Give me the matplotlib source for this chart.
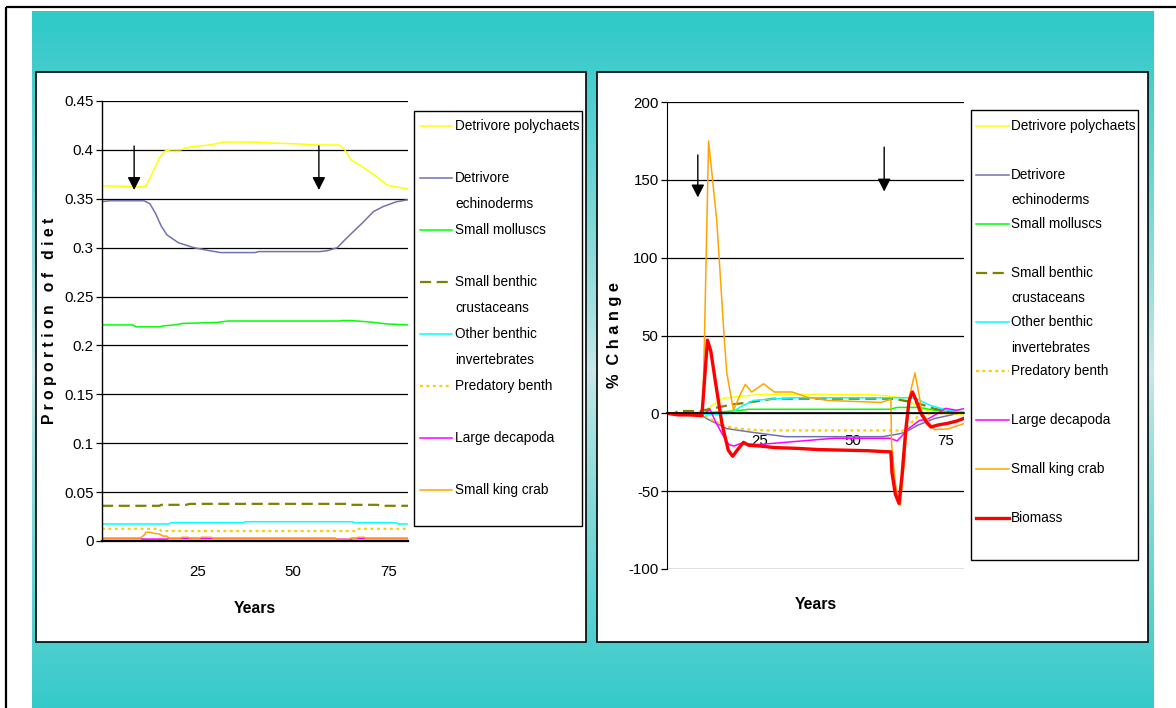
import numpy as np
import matplotlib
matplotlib.use('Agg')
import matplotlib.pyplot as plt
from matplotlib import font_manager
from matplotlib.patches import Rectangle
from matplotlib.lines import Line2D

# ---------------- DATA ----------------
labels = ["Detrivore polychaets", "Detrivore\nechinoderms", "Small molluscs",
          "Small benthic\ncrustaceans", "Other benthic\ninvertebrates", "Predatory benth",
          "Large decapoda", "Small king crab", "Biomass"]

# Left panel: proportion of diet
poly_x = [0, 5, 10, 11.5, 13, 15, 16.5, 18, 20.5, 23, 28, 32, 39, 45, 52, 56, 62, 63.5, 65, 68, 72, 74.5, 77, 80]
poly_y = [0.363, 0.363, 0.362, 0.363, 0.375, 0.392, 0.399, 0.400, 0.400, 0.403, 0.405, 0.408, 0.408, 0.407, 0.406,
          0.405, 0.405, 0.400, 0.390, 0.383, 0.372, 0.364, 0.362, 0.360]
echi_x = [0, 2, 11, 12.5, 14, 15.5, 17, 20, 24, 28, 31, 40, 41, 57, 59, 61.5, 64, 68, 71, 73.5, 77, 80]
echi_y = [0.347, 0.348, 0.348, 0.345, 0.335, 0.322, 0.313, 0.305, 0.300, 0.297, 0.295, 0.295, 0.296, 0.296,
          0.297, 0.300, 0.310, 0.325, 0.337, 0.342, 0.347, 0.349]
moll_x = [0, 8, 9, 15, 16, 19, 21, 30, 33, 62, 63, 65, 70, 74.5, 80]
moll_y = [0.221, 0.221, 0.219, 0.219, 0.220, 0.221, 0.2225, 0.2235, 0.225, 0.225, 0.2255, 0.2255, 0.224, 0.222, 0.221]
crus_x = [0, 15, 15.5, 22, 23, 64.5, 65, 72, 73, 80]
crus_y = [0.036, 0.036, 0.037, 0.037, 0.038, 0.038, 0.037, 0.037, 0.036, 0.036]
oth_x = [0, 17.5, 18, 37, 37.5, 65.5, 66, 77, 77.5, 80]
oth_y = [0.0174, 0.0174, 0.0187, 0.0187, 0.0197, 0.0197, 0.0187, 0.0187, 0.0174, 0.0174]
pred_x = [0, 15, 15.5, 66, 66.5, 80]
pred_y = [0.0125, 0.0125, 0.0102, 0.0102, 0.0125, 0.0125]
deca_x = [0, 10, 10.5, 17, 17.5, 61, 61.5, 65, 65.5, 80]
deca_y = [0.0025, 0.0025, 0.002, 0.002, 0.0025, 0.0025, 0.0018, 0.0018, 0.0025, 0.0025]
crab_x = [0, 10, 11, 11.5, 12.5, 14, 15, 16, 17, 17.5, 20.5, 21, 22.5, 23, 25.5, 26, 28.5, 29, 61, 61.5, 64.5,
          65, 66.5, 67, 68.5, 69, 80]
crab_y = [0.003, 0.003, 0.006, 0.0089, 0.0089, 0.0075, 0.0072, 0.005, 0.005, 0.003, 0.003, 0.0038, 0.0038,
          0.003, 0.003, 0.0038, 0.0038, 0.003, 0.003, 0.0015, 0.0015, 0.003, 0.003, 0.0038, 0.0038, 0.003, 0.003]

# Right panel: % change
rpoly_x = [0, 5, 9, 10.5, 12, 15, 20, 25, 40, 55, 60, 63, 66, 68, 70, 75, 80]
rpoly_y = [0, 0.5, 1, 2, 5, 9.6, 11, 12, 12.2, 12, 11, 10, 6.6, 4, 2, 0, -1]
rechi_x = [0, 8, 9, 10.7, 16.1, 22.4, 28.7, 32, 45, 58, 63, 65, 67.5, 72, 76.6, 80]
rechi_y = [0, 0, -0.5, -3.4, -9.8, -12, -14, -15, -15, -15, -13, -11, -7.7, -3.4, -1, 1]
rmoll_x = [0, 8, 10, 15, 20, 22, 60, 62, 68, 72, 76, 80]
rmoll_y = [0, 0, 0.5, 1, 2, 2.6, 2.6, 3.8, 3.8, 2, 1, 0]
rcrus_x = [0, 2, 3, 9, 10, 12, 17.9, 22, 28.7, 60, 62, 64, 67, 72, 76, 80]
rcrus_y = [0, 0, 1.5, 1.5, 2, 3, 5.8, 7, 9.4, 9.4, 9, 8, 7, 3, 1, 0]
roth_x = [0, 9, 11, 17, 19.7, 23.3, 29.5, 35, 65, 67.5, 71, 75.6, 80]
roth_y = [0, 0, -1, 0, 4, 8.3, 9.4, 10, 10, 9, 5, 2, 1]
rpred_x = [0, 9, 10.5, 12, 15, 17.9, 22.4, 27, 60, 62, 63, 65, 68, 72, 80]
rpred_y = [0, 0, -2, -4, -7.7, -9.4, -10.5, -11, -11, -11, -12, -8, -1, 0, 0]
rdeca_x = [0, 8, 10, 11.6, 13, 14.8, 16.6, 18, 19.8, 25, 30, 35, 40, 45, 60, 62, 63.5, 65, 68, 70, 73, 75, 78, 80]
rdeca_y = [0, 0, 0, 2.4, -5, -13, -20, -21, -19.4, -20, -19, -18, -17, -16, -16, -17.7, -14, -10, -4.5, -4, 0,
           3.2, 2, 3]
rcrab_x = [0, 5, 9.6, 10.1, 11.2, 13.4, 15.4, 16.1, 17.9, 19.7, 21.1, 22.8, 26, 28.9, 33.7, 37.7, 43.2, 57.6,
           60.3, 60.5, 61.5, 62.8, 64, 65.2, 66.8, 68.8, 72, 75.6, 80]
rcrab_y = [0, 0, 0, 49, 175, 124, 49, 26, 2, 12, 18.6, 13.7, 19, 13.7, 13.7, 10.4, 8.3, 7, 9, -20, -45, -59,
           -30, 10, 26, 0, -10.5, -10, -6.6]
bio_x = [0, 3, 6, 9.4, 10.9, 11.8, 13, 14.8, 16.5, 17.7, 18.9, 20.6, 22, 25, 29, 35, 41, 54, 60.3, 60.6, 61.5,
         62.5, 63.3, 64.3, 65.2, 66.1, 67, 68.4, 70, 71.1, 73, 75.6, 78, 80]
bio_y = [0, -1, -1, -1.5, 47, 40, 21, -6.6, -23.7, -27.6, -23.7, -18.6, -20.5, -21, -22, -22.5, -23.3, -24,
         -24.8, -38, -52, -57.9, -40, -11, 8, 13.7, 9, 0, -6, -8.8, -7.5, -6.4, -5, -3.2]

left_series = [(poly_x, poly_y), (echi_x, echi_y), (moll_x, moll_y), (crus_x, crus_y), (oth_x, oth_y),
               (pred_x, pred_y), (deca_x, deca_y), (crab_x, crab_y)]
right_series = [(rpoly_x, rpoly_y), (rechi_x, rechi_y), (rmoll_x, rmoll_y), (rcrus_x, rcrus_y),
                (roth_x, roth_y), (rpred_x, rpred_y), (rdeca_x, rdeca_y), (rcrab_x, rcrab_y), (bio_x, bio_y)]

left_yticks = [0, 0.05, 0.1, 0.15, 0.2, 0.25, 0.3, 0.35, 0.4, 0.45]
left_yticklabels = ["0", "0.05", "0.1", "0.15", "0.2", "0.25", "0.3", "0.35", "0.4", "0.45"]
right_yticks = [-100, -50, 0, 50, 100, 150, 200]
xticks = [25, 50, 75]

left_arrows = [(8.4, 0.404, 0.359), (56.7, 0.404, 0.359)]
right_arrows = [(8.3, 166, 138.7), (58.5, 171, 142.5)]

# ---------------- STYLE ----------------
styles = [
    dict(color='#FFFF00', lw=1.1, ls='-'),
    dict(color='#7272B0', lw=1.1, ls='-'),
    dict(color='#00FF00', lw=1.1, ls='-'),
    dict(color='#808000', lw=1.6, ls=(0, (5, 2.5))),
    dict(color='#00FFFF', lw=1.1, ls='-'),
    dict(color='#FFCC00', lw=1.6, ls=(0, (1.3, 1.6))),
    dict(color='#FF00FF', lw=1.1, ls='-'),
    dict(color='#FFA500', lw=1.1, ls='-'),
    dict(color='#FF0000', lw=2.4, ls='-'),
]

W, H = 1176, 708
avail = {f.name for f in font_manager.fontManager.ttflist}
FONT = next((f for f in ['Liberation Sans Narrow', 'Arial Narrow', 'DejaVu Sans Condensed', 'Liberation Sans']
             if f in avail), 'DejaVu Sans')
NARROW = FONT != 'Liberation Sans'
plt.rcParams['font.family'] = [FONT, 'DejaVu Sans']
plt.rcParams['axes.unicode_minus'] = False
SZ = 12.5 if NARROW else 10.8
LSZ = 12 if NARROW else 9.8

fig = plt.figure(figsize=(W / 100, H / 100), dpi=100)
fig.patch.set_facecolor('white')


def rect(x0, y0, x1, y1):
    return [x0 / W, 1 - y1 / H, (x1 - x0) / W, (y1 - y0) / H]


# background
bg = fig.add_axes([0, 0, 1, 1])
bg.set_xlim(0, W)
bg.set_ylim(H, 0)
bg.axis('off')
ys = np.arange(11, 709)
t = np.clip(np.abs(ys - 370) / 345.0, 0, 1) ** 0.8
light = np.array([0.80, 0.91, 0.91])
teal = np.array([0.20, 0.79, 0.79])
grad = light[None, :] + (teal - light)[None, :] * t[:, None]
bg.imshow(grad[:, None, :], extent=[32, 1154, 708, 11], aspect='auto', interpolation='bilinear', zorder=0)
bg.plot([6, 1176], [7, 7], color='black', lw=1.6, solid_capstyle='butt', zorder=1)
bg.plot([6, 6], [7, 708], color='black', lw=1.6, solid_capstyle='butt', zorder=1)
for (x0, x1) in [(36, 586), (597, 1148)]:
    bg.add_patch(Rectangle((x0, 72), x1 - x0, 642 - 72, facecolor='white', edgecolor='black', lw=1.2, zorder=2))


def draw_legend(x0, x1, y0, y1, lx0, lx1, tx, slot0, dy, n):
    bg.add_patch(Rectangle((x0, y0), x1 - x0, y1 - y0, facecolor='white', edgecolor='black', lw=1.0, zorder=3))
    for i in range(n):
        yy = slot0 + dy * i
        st = styles[i]
        bg.add_line(Line2D([lx0, lx1], [yy, yy], color=st['color'], lw=st['lw'], ls=st['ls'], zorder=4))
        for j, line in enumerate(labels[i].split('\n')):
            bg.text(tx, yy + 25.5 * j, line, fontsize=LSZ, va='center', ha='left', zorder=4)


draw_legend(414, 582, 111, 526, 420, 452, 455, 126, 52, 8)
draw_legend(971, 1138, 110, 560, 976, 1009, 1011, 126, 49, 9)

# left chart
axL = fig.add_axes(rect(102, 101, 408, 541))
axL.set_facecolor('none')
for (xs, yv), st in zip(left_series, styles):
    axL.plot(xs, yv, color=st['color'], lw=st['lw'], ls=st['ls'])
axL.set_xlim(0, 80)
axL.set_ylim(0, 0.45)
axL.set_yticks(left_yticks)
axL.set_yticklabels(left_yticklabels)
axL.set_xticks(xticks)
for v in left_yticks:
    axL.axhline(v, color='black', lw=0.9, zorder=0.5)
axL.tick_params(axis='y', length=4, width=0.9, pad=2, labelsize=SZ, direction='out')
axL.tick_params(axis='x', length=0, pad=17, labelsize=SZ)
for s in ['top', 'right']:
    axL.spines[s].set_visible(False)
axL.spines['left'].set_linewidth(1.0)
axL.spines['bottom'].set_linewidth(1.6)
axL.set_xlabel('Years', fontsize=SZ + 0.5, fontweight='bold', labelpad=16)
axL.set_ylabel('P r o p o r t i o n   o f   d i e t', fontsize=SZ + 0.5, fontweight='bold')
axL.yaxis.set_label_coords((57 - 102) / 306, 0.5)
for (x, ys0, ys1) in left_arrows:
    axL.annotate('', xy=(x, ys1), xytext=(x, ys0),
                 arrowprops=dict(arrowstyle='-|>,head_length=0.55,head_width=0.28', color='black', lw=1.0,
                                 mutation_scale=14, shrinkA=0, shrinkB=0))

# right chart
axR = fig.add_axes(rect(667, 102, 964, 569))
axR.set_facecolor('none')
for (xs, yv), st in zip(right_series, styles):
    axR.plot(xs, yv, color=st['color'], lw=st['lw'], ls=st['ls'])
axR.set_xlim(0, 80)
axR.set_ylim(-100, 200)
axR.set_yticks(right_yticks)
axR.set_xticks(xticks)
for v in right_yticks:
    axR.axhline(v, color='black', lw=0.9, zorder=0.5)
axR.spines['bottom'].set_position(('data', 0))
axR.spines['bottom'].set_linewidth(1.2)
for s in ['top', 'right']:
    axR.spines[s].set_visible(False)
axR.tick_params(axis='y', length=4, width=0.9, pad=2, labelsize=SZ, direction='out')
axR.tick_params(axis='x', length=0, pad=15, labelsize=SZ)
axR.set_ylabel('%  C h a n g e', fontsize=SZ + 1, fontweight='bold')
axR.yaxis.set_label_coords((622 - 667) / 297, 0.5)
axR.text(0.5, -0.075, 'Years', transform=axR.transAxes, ha='center', va='center', fontsize=SZ + 0.5,
         fontweight='bold')
for (x, ys0, ys1) in right_arrows:
    axR.annotate('', xy=(x, ys1), xytext=(x, ys0),
                 arrowprops=dict(arrowstyle='-|>,head_length=0.55,head_width=0.28', color='black', lw=1.0,
                                 mutation_scale=14, shrinkA=0, shrinkB=0))

fig.savefig('out.png', dpi=100, facecolor='white')
